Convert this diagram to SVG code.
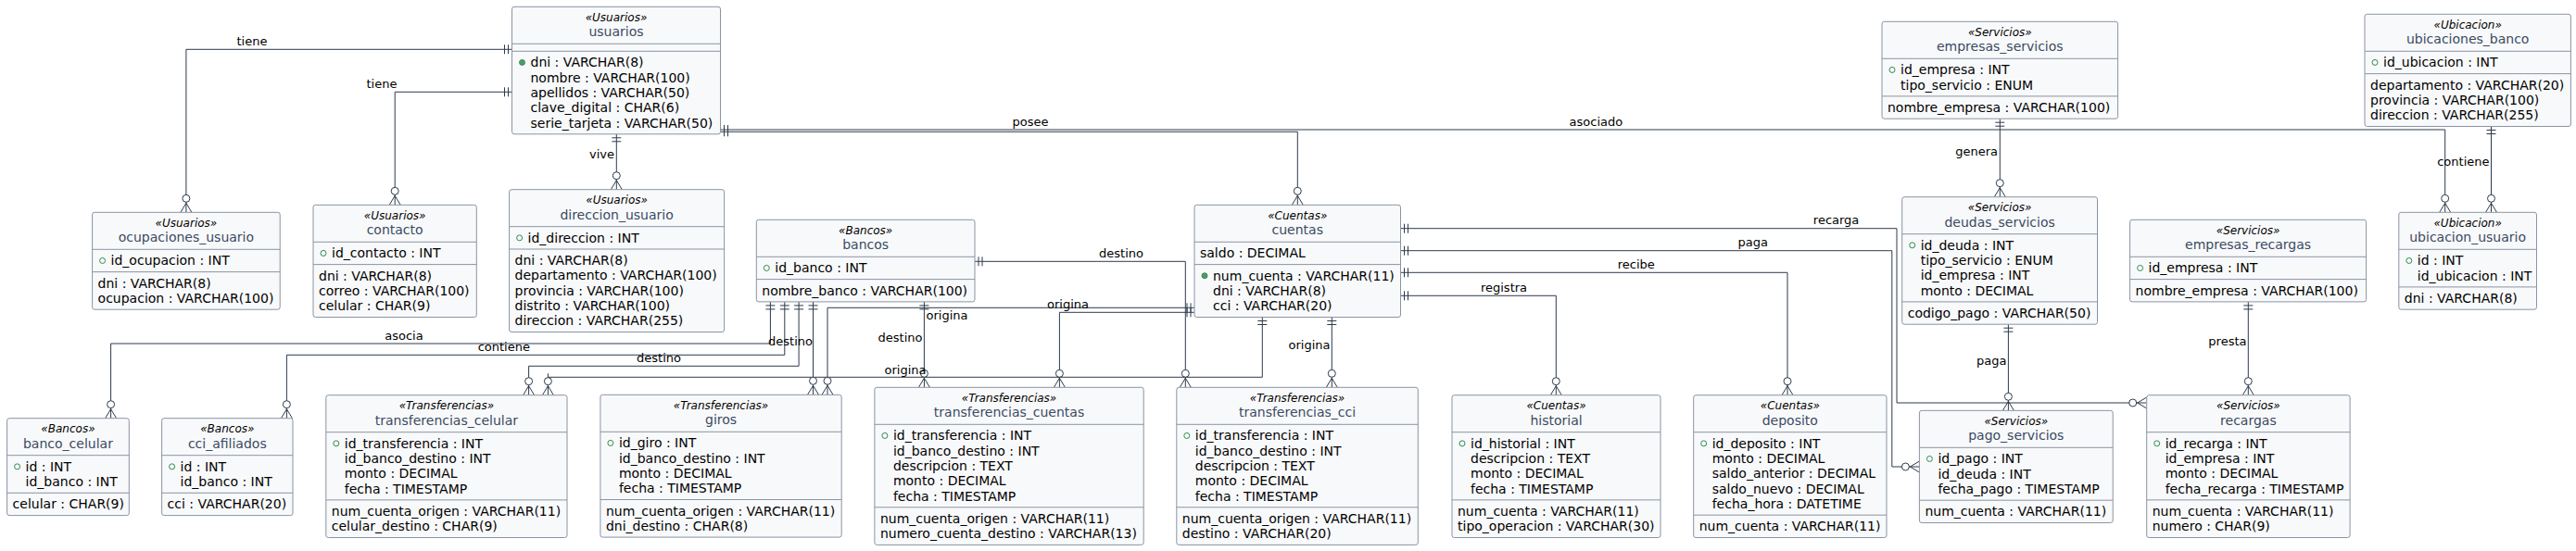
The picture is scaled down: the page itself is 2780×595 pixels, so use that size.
<svg xmlns="http://www.w3.org/2000/svg" xmlns:xlink="http://www.w3.org/1999/xlink" width="2780" height="595" viewBox="0 0 2780 595">
<style>
.box{fill:#F8F9FA;stroke:#8A94A3;stroke-width:1}
.sep{stroke:#8A94A3;stroke-width:1}
.st{font-family:"DejaVu Sans",sans-serif;font-style:italic;font-size:12px;text-anchor:middle;fill:#000}
.nm{font-family:"DejaVu Sans",sans-serif;font-size:14px;text-anchor:middle;fill:#3B4A63}
.at{font-family:"DejaVu Sans",sans-serif;font-size:14px;fill:#000}
.lb{font-family:"DejaVu Sans",sans-serif;font-size:13px;fill:#000}
.mid{text-anchor:middle}
.end{text-anchor:end}
.ln{fill:none;stroke:#2D3A4A;stroke-width:1}
.mk{fill:none;stroke:#2D3A4A;stroke-width:1}
.ci{fill:#FFFFFF;stroke:#2D3A4A;stroke-width:1}
.kf{fill:#4A9E68;stroke:#2F7A4A;stroke-width:0.8}
.kh{fill:none;stroke:#2F8A52;stroke-width:1}
</style>
<defs>
<g id="crowD"><path class="mk" d="M0,-10 L-6,0 M0,-10 L6,0"/><circle class="ci" cx="0" cy="-15" r="4"/></g>
<g id="crowR"><path class="mk" d="M-10,0 L0,-6 M-10,0 L0,6"/><circle class="ci" cx="-15" cy="0" r="4"/></g>
<path id="oneDown" class="mk" d="M-5,4 H5 M-5,8 H5"/>
<path id="oneRight" class="mk" d="M4,-5 V5 M8,-5 V5"/>
<path id="oneLeft" class="mk" d="M-4,-5 V5 M-8,-5 V5"/>
</defs>
<rect width="2780" height="595" fill="#FFFFFF"/>

<g id="connectors">
<path class="ln" d="M552.5,53.3 H200.9 V229.3"/>
<path class="ln" d="M552.5,99.3 H426.2 V221.3"/>
<path class="ln" d="M665.3,144.8 V204.7"/>
<path class="ln" d="M777.5,142.3 H1400.3 V221.3"/>
<path class="ln" d="M777.5,140 H2638.7 V229.3"/>
<path class="ln" d="M2158.3,128.2 V212.7"/>
<path class="ln" d="M2688.5,136.5 V229.3"/>
<path class="ln" d="M2426.3,325.9 V426.7"/>
<path class="ln" d="M2167.4,350.2 V443.3"/>
<path class="ln" d="M1511.5,246.7 H2047 V435 H2316.7"/>
<path class="ln" d="M1511.5,270.7 H2041.8 V504 H2071.4"/>
<path class="ln" d="M1511.5,294.3 H1929 V426.7"/>
<path class="ln" d="M1511.5,319.3 H1679.3 V426.7"/>
<path class="ln" d="M1052,282.3 H1279.3 V418.3"/>
<path class="ln" d="M997.4,325.9 V418.3"/>
<path class="ln" d="M1289,332.3 H893 V426.3"/>
<path class="ln" d="M1289,337.3 H1143.4 V418.3"/>
<path class="ln" d="M1362.3,342.5 V407.3 H591.4 M591.4,403.3 V426.7"/>
<path class="ln" d="M1437.3,342.5 V418.3"/>
<path class="ln" d="M831.4,325.9 V371 H119.6 V451.7"/>
<path class="ln" d="M846.8,325.9 V383.3 H309.4 V451.7"/>
<path class="ln" d="M862.1,325.9 V395.3 H570.6 V426.7"/>
<path class="ln" d="M877.5,325.9 V426.3"/>

<use href="#oneLeft" x="552.5" y="53.3"/><use href="#crowD" x="200.9" y="229.3"/>
<use href="#oneLeft" x="552.5" y="99.3"/><use href="#crowD" x="426.2" y="221.3"/>
<use href="#oneDown" x="665.3" y="144.8"/><use href="#crowD" x="665.3" y="204.7"/>
<use href="#oneRight" x="777.5" y="142.3"/><use href="#crowD" x="1400.3" y="221.3"/>
<use href="#oneRight" x="777.5" y="140"/><use href="#crowD" x="2638.7" y="229.3"/>
<use href="#oneDown" x="2158.3" y="128.2"/><use href="#crowD" x="2158.3" y="212.7"/>
<use href="#oneDown" x="2688.5" y="136.5"/><use href="#crowD" x="2688.5" y="229.3"/>
<use href="#oneDown" x="2426.3" y="325.9"/><use href="#crowD" x="2426.3" y="426.7"/>
<use href="#oneDown" x="2167.4" y="350.2"/><use href="#crowD" x="2167.4" y="443.3"/>
<use href="#oneRight" x="1511.5" y="246.7"/><use href="#crowR" x="2316.7" y="435"/>
<use href="#oneRight" x="1511.5" y="270.7"/><use href="#crowR" x="2071.4" y="504"/>
<use href="#oneRight" x="1511.5" y="294.3"/><use href="#crowD" x="1929" y="426.7"/>
<use href="#oneRight" x="1511.5" y="319.3"/><use href="#crowD" x="1679.3" y="426.7"/>
<use href="#oneRight" x="1052" y="282.3"/><use href="#crowD" x="1279.3" y="418.3"/>
<use href="#oneDown" x="997.4" y="325.9"/><use href="#crowD" x="997.4" y="418.3"/>
<use href="#oneLeft" x="1289" y="332.3"/><use href="#crowD" x="893" y="426.3"/>
<use href="#oneLeft" x="1289" y="337.3"/><use href="#crowD" x="1143.4" y="418.3"/>
<use href="#oneDown" x="1362.3" y="342.5"/><use href="#crowD" x="591.4" y="426.7"/>
<use href="#oneDown" x="1437.3" y="342.5"/><use href="#crowD" x="1437.3" y="418.3"/>
<use href="#oneDown" x="831.4" y="325.9"/><use href="#crowD" x="119.6" y="451.7"/>
<use href="#oneDown" x="846.8" y="325.9"/><use href="#crowD" x="309.4" y="451.7"/>
<use href="#oneDown" x="862.1" y="325.9"/><use href="#crowD" x="570.6" y="426.7"/>
<use href="#oneDown" x="877.5" y="325.9"/><use href="#crowD" x="877.5" y="426.3"/>

<text class="lb mid" x="272" y="48.8">tiene</text>
<text class="lb mid" x="412" y="94.8">tiene</text>
<text class="lb end" x="663" y="171">vive</text>
<text class="lb mid" x="1112" y="136">posee</text>
<text class="lb mid" x="1722.4" y="136">asociado</text>
<text class="lb end" x="2156" y="167.5">genera</text>
<text class="lb end" x="2686.5" y="178.8">contiene</text>
<text class="lb end" x="2424.5" y="373.2">presta</text>
<text class="lb end" x="2165.5" y="393.5">paga</text>
<text class="lb mid" x="1981.6" y="242.2">recarga</text>
<text class="lb mid" x="1891.8" y="266.2">paga</text>
<text class="lb mid" x="1765.8" y="290">recibe</text>
<text class="lb mid" x="1623" y="315">registra</text>
<text class="lb mid" x="1210" y="277.8">destino</text>
<text class="lb end" x="995.5" y="369.2">destino</text>
<text class="lb mid" x="1152.5" y="333">origina</text>
<text class="lb" x="999.5" y="345.2">origina</text>
<text class="lb mid" x="977" y="403.5">origina</text>
<text class="lb end" x="1435.5" y="376.8">origina</text>
<text class="lb mid" x="436" y="367.2">asocia</text>
<text class="lb mid" x="543.8" y="379.2">contiene</text>
<text class="lb mid" x="711" y="391.2">destino</text>
<text class="lb end" x="877" y="372.8">destino</text>
</g>

<g id="usuarios">
<rect class="box" x="552.5" y="7.3" width="225" height="137.5" rx="2.5"/>
<text class="st" x="665" y="22.8">«Usuarios»</text>
<text class="nm" x="665" y="39.3">usuarios</text>
<line class="sep" x1="552.5" y1="47.3" x2="777.5" y2="47.3"/>
<line class="sep" x1="552.5" y1="55.3" x2="777.5" y2="55.3"/>
<circle class="kf" cx="563.5" cy="67.45" r="3"/>
<text class="at" x="572.5" y="72.45">dni : VARCHAR(8)</text>
<text class="at" x="572.5" y="88.75">nombre : VARCHAR(100)</text>
<text class="at" x="572.5" y="105.05">apellidos : VARCHAR(50)</text>
<text class="at" x="572.5" y="121.35">clave_digital : CHAR(6)</text>
<text class="at" x="572.5" y="137.65">serie_tarjeta : VARCHAR(50)</text>
</g>

<g id="ocupaciones_usuario">
<rect class="box" x="99.6" y="229.3" width="202.6" height="104.9" rx="2.5"/>
<text class="st" x="200.9" y="244.8">«Usuarios»</text>
<text class="nm" x="200.9" y="261.3">ocupaciones_usuario</text>
<line class="sep" x1="99.6" y1="269.3" x2="302.2" y2="269.3"/>
<circle class="kh" cx="110.6" cy="281.45" r="3"/>
<text class="at" x="119.6" y="286.45">id_ocupacion : INT</text>
<line class="sep" x1="99.6" y1="293.6" x2="302.2" y2="293.6"/>
<text class="at" x="105.6" y="310.75">dni : VARCHAR(8)</text>
<text class="at" x="105.6" y="327.05">ocupacion : VARCHAR(100)</text>
</g>

<g id="contacto">
<rect class="box" x="338" y="221.3" width="176.3" height="121.2" rx="2.5"/>
<text class="st" x="426.15" y="236.8">«Usuarios»</text>
<text class="nm" x="426.15" y="253.3">contacto</text>
<line class="sep" x1="338" y1="261.3" x2="514.3" y2="261.3"/>
<circle class="kh" cx="349" cy="273.45" r="3"/>
<text class="at" x="358" y="278.45">id_contacto : INT</text>
<line class="sep" x1="338" y1="285.6" x2="514.3" y2="285.6"/>
<text class="at" x="344" y="302.75">dni : VARCHAR(8)</text>
<text class="at" x="344" y="319.05">correo : VARCHAR(100)</text>
<text class="at" x="344" y="335.35">celular : CHAR(9)</text>
</g>

<g id="direccion_usuario">
<rect class="box" x="549.6" y="204.7" width="232" height="153.8" rx="2.5"/>
<text class="st" x="665.6" y="220.2">«Usuarios»</text>
<text class="nm" x="665.6" y="236.7">direccion_usuario</text>
<line class="sep" x1="549.6" y1="244.7" x2="781.6" y2="244.7"/>
<circle class="kh" cx="560.6" cy="256.85" r="3"/>
<text class="at" x="569.6" y="261.85">id_direccion : INT</text>
<line class="sep" x1="549.6" y1="269" x2="781.6" y2="269"/>
<text class="at" x="555.6" y="286.15">dni : VARCHAR(8)</text>
<text class="at" x="555.6" y="302.45">departamento : VARCHAR(100)</text>
<text class="at" x="555.6" y="318.75">provincia : VARCHAR(100)</text>
<text class="at" x="555.6" y="335.05">distrito : VARCHAR(100)</text>
<text class="at" x="555.6" y="351.35">direccion : VARCHAR(255)</text>
</g>

<g id="bancos">
<rect class="box" x="816.3" y="237.3" width="235.7" height="88.6" rx="2.5"/>
<text class="st" x="934.15" y="252.8">«Bancos»</text>
<text class="nm" x="934.15" y="269.3">bancos</text>
<line class="sep" x1="816.3" y1="277.3" x2="1052" y2="277.3"/>
<circle class="kh" cx="827.3" cy="289.45" r="3"/>
<text class="at" x="836.3" y="294.45">id_banco : INT</text>
<line class="sep" x1="816.3" y1="301.6" x2="1052" y2="301.6"/>
<text class="at" x="822.3" y="318.75">nombre_banco : VARCHAR(100)</text>
</g>

<g id="cuentas">
<rect class="box" x="1289" y="221.3" width="222.5" height="121.2" rx="2.5"/>
<text class="st" x="1400.25" y="236.8">«Cuentas»</text>
<text class="nm" x="1400.25" y="253.3">cuentas</text>
<line class="sep" x1="1289" y1="261.3" x2="1511.5" y2="261.3"/>
<text class="at" x="1295" y="278.45">saldo : DECIMAL</text>
<line class="sep" x1="1289" y1="285.6" x2="1511.5" y2="285.6"/>
<circle class="kf" cx="1300" cy="297.75" r="3"/>
<text class="at" x="1309" y="302.75">num_cuenta : VARCHAR(11)</text>
<text class="at" x="1309" y="319.05">dni : VARCHAR(8)</text>
<text class="at" x="1309" y="335.35">cci : VARCHAR(20)</text>
</g>

<g id="banco_celular">
<rect class="box" x="7.6" y="451.7" width="131.7" height="104.9" rx="2.5"/>
<text class="st" x="73.45" y="467.2">«Bancos»</text>
<text class="nm" x="73.45" y="483.7">banco_celular</text>
<line class="sep" x1="7.6" y1="491.7" x2="139.3" y2="491.7"/>
<circle class="kh" cx="18.6" cy="503.85" r="3"/>
<text class="at" x="27.6" y="508.85">id : INT</text>
<text class="at" x="27.6" y="525.15">id_banco : INT</text>
<line class="sep" x1="7.6" y1="532.3" x2="139.3" y2="532.3"/>
<text class="at" x="13.6" y="549.45">celular : CHAR(9)</text>
</g>

<g id="cci_afiliados">
<rect class="box" x="174.6" y="451.7" width="141.4" height="104.9" rx="2.5"/>
<text class="st" x="245.3" y="467.2">«Bancos»</text>
<text class="nm" x="245.3" y="483.7">cci_afiliados</text>
<line class="sep" x1="174.6" y1="491.7" x2="316" y2="491.7"/>
<circle class="kh" cx="185.6" cy="503.85" r="3"/>
<text class="at" x="194.6" y="508.85">id : INT</text>
<text class="at" x="194.6" y="525.15">id_banco : INT</text>
<line class="sep" x1="174.6" y1="532.3" x2="316" y2="532.3"/>
<text class="at" x="180.6" y="549.45">cci : VARCHAR(20)</text>
</g>

<g id="transferencias_celular">
<rect class="box" x="351.8" y="426.7" width="260.2" height="153.8" rx="2.5"/>
<text class="st" x="481.9" y="442.2">«Transferencias»</text>
<text class="nm" x="481.9" y="458.7">transferencias_celular</text>
<line class="sep" x1="351.8" y1="466.7" x2="612" y2="466.7"/>
<circle class="kh" cx="362.8" cy="478.85" r="3"/>
<text class="at" x="371.8" y="483.85">id_transferencia : INT</text>
<text class="at" x="371.8" y="500.15">id_banco_destino : INT</text>
<text class="at" x="371.8" y="516.45">monto : DECIMAL</text>
<text class="at" x="371.8" y="532.75">fecha : TIMESTAMP</text>
<line class="sep" x1="351.8" y1="539.9" x2="612" y2="539.9"/>
<text class="at" x="357.8" y="557.05">num_cuenta_origen : VARCHAR(11)</text>
<text class="at" x="357.8" y="573.35">celular_destino : CHAR(9)</text>
</g>

<g id="giros">
<rect class="box" x="647.9" y="426.3" width="260.3" height="153.8" rx="2.5"/>
<text class="st" x="778.05" y="441.8">«Transferencias»</text>
<text class="nm" x="778.05" y="458.3">giros</text>
<line class="sep" x1="647.9" y1="466.3" x2="908.2" y2="466.3"/>
<circle class="kh" cx="658.9" cy="478.45" r="3"/>
<text class="at" x="667.9" y="483.45">id_giro : INT</text>
<text class="at" x="667.9" y="499.75">id_banco_destino : INT</text>
<text class="at" x="667.9" y="516.05">monto : DECIMAL</text>
<text class="at" x="667.9" y="532.35">fecha : TIMESTAMP</text>
<line class="sep" x1="647.9" y1="539.5" x2="908.2" y2="539.5"/>
<text class="at" x="653.9" y="556.65">num_cuenta_origen : VARCHAR(11)</text>
<text class="at" x="653.9" y="572.95">dni_destino : CHAR(8)</text>
</g>

<g id="transferencias_cuentas">
<rect class="box" x="943.9" y="418.3" width="290.3" height="170.1" rx="2.5"/>
<text class="st" x="1089.05" y="433.8">«Transferencias»</text>
<text class="nm" x="1089.05" y="450.3">transferencias_cuentas</text>
<line class="sep" x1="943.9" y1="458.3" x2="1234.2" y2="458.3"/>
<circle class="kh" cx="954.9" cy="470.45" r="3"/>
<text class="at" x="963.9" y="475.45">id_transferencia : INT</text>
<text class="at" x="963.9" y="491.75">id_banco_destino : INT</text>
<text class="at" x="963.9" y="508.05">descripcion : TEXT</text>
<text class="at" x="963.9" y="524.35">monto : DECIMAL</text>
<text class="at" x="963.9" y="540.65">fecha : TIMESTAMP</text>
<line class="sep" x1="943.9" y1="547.8" x2="1234.2" y2="547.8"/>
<text class="at" x="949.9" y="564.95">num_cuenta_origen : VARCHAR(11)</text>
<text class="at" x="949.9" y="581.25">numero_cuenta_destino : VARCHAR(13)</text>
</g>

<g id="transferencias_cci">
<rect class="box" x="1269.8" y="418.3" width="260.5" height="170.1" rx="2.5"/>
<text class="st" x="1400.05" y="433.8">«Transferencias»</text>
<text class="nm" x="1400.05" y="450.3">transferencias_cci</text>
<line class="sep" x1="1269.8" y1="458.3" x2="1530.3" y2="458.3"/>
<circle class="kh" cx="1280.8" cy="470.45" r="3"/>
<text class="at" x="1289.8" y="475.45">id_transferencia : INT</text>
<text class="at" x="1289.8" y="491.75">id_banco_destino : INT</text>
<text class="at" x="1289.8" y="508.05">descripcion : TEXT</text>
<text class="at" x="1289.8" y="524.35">monto : DECIMAL</text>
<text class="at" x="1289.8" y="540.65">fecha : TIMESTAMP</text>
<line class="sep" x1="1269.8" y1="547.8" x2="1530.3" y2="547.8"/>
<text class="at" x="1275.8" y="564.95">num_cuenta_origen : VARCHAR(11)</text>
<text class="at" x="1275.8" y="581.25">destino : VARCHAR(20)</text>
</g>

<g id="historial">
<rect class="box" x="1567" y="426.7" width="225" height="153.8" rx="2.5"/>
<text class="st" x="1679.5" y="442.2">«Cuentas»</text>
<text class="nm" x="1679.5" y="458.7">historial</text>
<line class="sep" x1="1567" y1="466.7" x2="1792" y2="466.7"/>
<circle class="kh" cx="1578" cy="478.85" r="3"/>
<text class="at" x="1587" y="483.85">id_historial : INT</text>
<text class="at" x="1587" y="500.15">descripcion : TEXT</text>
<text class="at" x="1587" y="516.45">monto : DECIMAL</text>
<text class="at" x="1587" y="532.75">fecha : TIMESTAMP</text>
<line class="sep" x1="1567" y1="539.9" x2="1792" y2="539.9"/>
<text class="at" x="1573" y="557.05">num_cuenta : VARCHAR(11)</text>
<text class="at" x="1573" y="573.35">tipo_operacion : VARCHAR(30)</text>
</g>

<g id="deposito">
<rect class="box" x="1827.7" y="426.7" width="208.3" height="153.8" rx="2.5"/>
<text class="st" x="1931.85" y="442.2">«Cuentas»</text>
<text class="nm" x="1931.85" y="458.7">deposito</text>
<line class="sep" x1="1827.7" y1="466.7" x2="2036" y2="466.7"/>
<circle class="kh" cx="1838.7" cy="478.85" r="3"/>
<text class="at" x="1847.7" y="483.85">id_deposito : INT</text>
<text class="at" x="1847.7" y="500.15">monto : DECIMAL</text>
<text class="at" x="1847.7" y="516.45">saldo_anterior : DECIMAL</text>
<text class="at" x="1847.7" y="532.75">saldo_nuevo : DECIMAL</text>
<text class="at" x="1847.7" y="549.05">fecha_hora : DATETIME</text>
<line class="sep" x1="1827.7" y1="556.2" x2="2036" y2="556.2"/>
<text class="at" x="1833.7" y="573.35">num_cuenta : VARCHAR(11)</text>
</g>

<g id="empresas_servicios">
<rect class="box" x="2031" y="23.3" width="254.6" height="104.9" rx="2.5"/>
<text class="st" x="2158.3" y="38.8">«Servicios»</text>
<text class="nm" x="2158.3" y="55.3">empresas_servicios</text>
<line class="sep" x1="2031" y1="63.3" x2="2285.6" y2="63.3"/>
<circle class="kh" cx="2042" cy="75.45" r="3"/>
<text class="at" x="2051" y="80.45">id_empresa : INT</text>
<text class="at" x="2051" y="96.75">tipo_servicio : ENUM</text>
<line class="sep" x1="2031" y1="103.9" x2="2285.6" y2="103.9"/>
<text class="at" x="2037" y="121.05">nombre_empresa : VARCHAR(100)</text>
</g>

<g id="deudas_servicios">
<rect class="box" x="2052.7" y="212.7" width="210.8" height="137.5" rx="2.5"/>
<text class="st" x="2158.1" y="228.2">«Servicios»</text>
<text class="nm" x="2158.1" y="244.7">deudas_servicios</text>
<line class="sep" x1="2052.7" y1="252.7" x2="2263.5" y2="252.7"/>
<circle class="kh" cx="2063.7" cy="264.85" r="3"/>
<text class="at" x="2072.7" y="269.85">id_deuda : INT</text>
<text class="at" x="2072.7" y="286.15">tipo_servicio : ENUM</text>
<text class="at" x="2072.7" y="302.45">id_empresa : INT</text>
<text class="at" x="2072.7" y="318.75">monto : DECIMAL</text>
<line class="sep" x1="2052.7" y1="325.9" x2="2263.5" y2="325.9"/>
<text class="at" x="2058.7" y="343.05">codigo_pago : VARCHAR(50)</text>
</g>

<g id="pago_servicios">
<rect class="box" x="2071.4" y="443.3" width="208.8" height="121.2" rx="2.5"/>
<text class="st" x="2175.8" y="458.8">«Servicios»</text>
<text class="nm" x="2175.8" y="475.3">pago_servicios</text>
<line class="sep" x1="2071.4" y1="483.3" x2="2280.2" y2="483.3"/>
<circle class="kh" cx="2082.4" cy="495.45" r="3"/>
<text class="at" x="2091.4" y="500.45">id_pago : INT</text>
<text class="at" x="2091.4" y="516.75">id_deuda : INT</text>
<text class="at" x="2091.4" y="533.05">fecha_pago : TIMESTAMP</text>
<line class="sep" x1="2071.4" y1="540.2" x2="2280.2" y2="540.2"/>
<text class="at" x="2077.4" y="557.35">num_cuenta : VARCHAR(11)</text>
</g>

<g id="empresas_recargas">
<rect class="box" x="2298.6" y="237.3" width="255" height="88.6" rx="2.5"/>
<text class="st" x="2426.1" y="252.8">«Servicios»</text>
<text class="nm" x="2426.1" y="269.3">empresas_recargas</text>
<line class="sep" x1="2298.6" y1="277.3" x2="2553.6" y2="277.3"/>
<circle class="kh" cx="2309.6" cy="289.45" r="3"/>
<text class="at" x="2318.6" y="294.45">id_empresa : INT</text>
<line class="sep" x1="2298.6" y1="301.6" x2="2553.6" y2="301.6"/>
<text class="at" x="2304.6" y="318.75">nombre_empresa : VARCHAR(100)</text>
</g>

<g id="recargas">
<rect class="box" x="2316.7" y="426.7" width="219.4" height="153.8" rx="2.5"/>
<text class="st" x="2426.4" y="442.2">«Servicios»</text>
<text class="nm" x="2426.4" y="458.7">recargas</text>
<line class="sep" x1="2316.7" y1="466.7" x2="2536.1" y2="466.7"/>
<circle class="kh" cx="2327.7" cy="478.85" r="3"/>
<text class="at" x="2336.7" y="483.85">id_recarga : INT</text>
<text class="at" x="2336.7" y="500.15">id_empresa : INT</text>
<text class="at" x="2336.7" y="516.45">monto : DECIMAL</text>
<text class="at" x="2336.7" y="532.75">fecha_recarga : TIMESTAMP</text>
<line class="sep" x1="2316.7" y1="539.9" x2="2536.1" y2="539.9"/>
<text class="at" x="2322.7" y="557.05">num_cuenta : VARCHAR(11)</text>
<text class="at" x="2322.7" y="573.35">numero : CHAR(9)</text>
</g>

<g id="ubicaciones_banco">
<rect class="box" x="2552" y="15.3" width="222.4" height="121.2" rx="2.5"/>
<text class="st" x="2663.2" y="30.8">«Ubicacion»</text>
<text class="nm" x="2663.2" y="47.3">ubicaciones_banco</text>
<line class="sep" x1="2552" y1="55.3" x2="2774.4" y2="55.3"/>
<circle class="kh" cx="2563" cy="67.45" r="3"/>
<text class="at" x="2572" y="72.45">id_ubicacion : INT</text>
<line class="sep" x1="2552" y1="79.6" x2="2774.4" y2="79.6"/>
<text class="at" x="2558" y="96.75">departamento : VARCHAR(20)</text>
<text class="at" x="2558" y="113.05">provincia : VARCHAR(100)</text>
<text class="at" x="2558" y="129.35">direccion : VARCHAR(255)</text>
</g>

<g id="ubicacion_usuario">
<rect class="box" x="2588.8" y="229.3" width="148.7" height="104.9" rx="2.5"/>
<text class="st" x="2663.15" y="244.8">«Ubicacion»</text>
<text class="nm" x="2663.15" y="261.3">ubicacion_usuario</text>
<line class="sep" x1="2588.8" y1="269.3" x2="2737.5" y2="269.3"/>
<circle class="kh" cx="2599.8" cy="281.45" r="3"/>
<text class="at" x="2608.8" y="286.45">id : INT</text>
<text class="at" x="2608.8" y="302.75">id_ubicacion : INT</text>
<line class="sep" x1="2588.8" y1="309.9" x2="2737.5" y2="309.9"/>
<text class="at" x="2594.8" y="327.05">dni : VARCHAR(8)</text>
</g>
</svg>
